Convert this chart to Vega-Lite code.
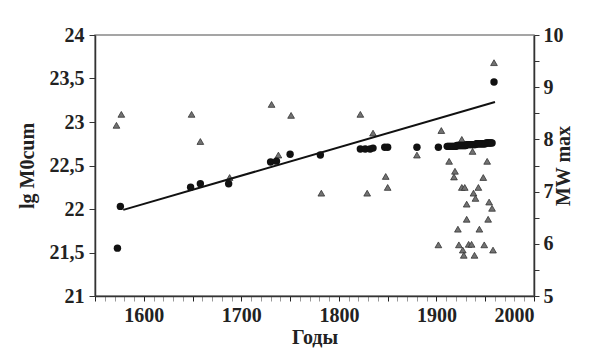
{
  "$schema": "https://vega.github.io/schema/vega-lite/v6.json",
  "autosize": "none",
  "width": 439,
  "height": 261,
  "padding": {"left": 95, "top": 35, "right": 61, "bottom": 57},
  "background": "white",
  "config": {
    "view": {"stroke": "#888", "strokeWidth": 1.5},
    "axis": {
      "labelFont": "Liberation Serif", "labelFontWeight": "bold", "labelFontSize": 20, "labelColor": "#222",
      "titleFont": "Liberation Serif", "titleFontWeight": "bold", "titleFontSize": 20, "titleColor": "#222",
      "domainColor": "#333", "domainWidth": 1.5, "tickColor": "#333", "tickWidth": 1, "grid": false
    }
  },
  "datasets": {
    "cum": [
      {"year": 1573, "lg": 21.55}, {"year": 1576, "lg": 22.03}, {"year": 1648, "lg": 22.25},
      {"year": 1658, "lg": 22.29}, {"year": 1687, "lg": 22.29}, {"year": 1730, "lg": 22.54},
      {"year": 1736, "lg": 22.55}, {"year": 1750, "lg": 22.63}, {"year": 1781, "lg": 22.62},
      {"year": 1822, "lg": 22.69}, {"year": 1827, "lg": 22.69}, {"year": 1832, "lg": 22.69},
      {"year": 1835, "lg": 22.70}, {"year": 1847, "lg": 22.71}, {"year": 1850, "lg": 22.71},
      {"year": 1880, "lg": 22.71}, {"year": 1902, "lg": 22.71},
      {"year": 1911, "lg": 22.72}, {"year": 1912, "lg": 22.72}, {"year": 1913, "lg": 22.72}, {"year": 1914, "lg": 22.72},
      {"year": 1915, "lg": 22.72}, {"year": 1916, "lg": 22.72}, {"year": 1917, "lg": 22.72}, {"year": 1918, "lg": 22.72},
      {"year": 1919, "lg": 22.72}, {"year": 1920, "lg": 22.72}, {"year": 1921, "lg": 22.73}, {"year": 1922, "lg": 22.73},
      {"year": 1923, "lg": 22.73}, {"year": 1924, "lg": 22.73}, {"year": 1925, "lg": 22.73}, {"year": 1926, "lg": 22.73},
      {"year": 1927, "lg": 22.73}, {"year": 1928, "lg": 22.73}, {"year": 1929, "lg": 22.73}, {"year": 1930, "lg": 22.73},
      {"year": 1931, "lg": 22.74}, {"year": 1932, "lg": 22.74}, {"year": 1933, "lg": 22.74}, {"year": 1934, "lg": 22.74},
      {"year": 1935, "lg": 22.74}, {"year": 1936, "lg": 22.74}, {"year": 1937, "lg": 22.74}, {"year": 1938, "lg": 22.74},
      {"year": 1939, "lg": 22.74}, {"year": 1940, "lg": 22.74}, {"year": 1941, "lg": 22.75}, {"year": 1942, "lg": 22.75},
      {"year": 1943, "lg": 22.75}, {"year": 1944, "lg": 22.75}, {"year": 1945, "lg": 22.75}, {"year": 1946, "lg": 22.75},
      {"year": 1947, "lg": 22.75}, {"year": 1948, "lg": 22.75}, {"year": 1949, "lg": 22.75}, {"year": 1950, "lg": 22.75},
      {"year": 1951, "lg": 22.76}, {"year": 1952, "lg": 22.76}, {"year": 1953, "lg": 22.76}, {"year": 1954, "lg": 22.76},
      {"year": 1955, "lg": 22.76}, {"year": 1956, "lg": 22.76}, {"year": 1957, "lg": 22.76},
      {"year": 1959, "lg": 23.46}
    ],
    "trend": [
      {"year": 1579, "lg": 21.99}, {"year": 1960, "lg": 23.23}
    ],
    "mmax": [
      {"year": 1572, "M": 8.27}, {"year": 1577, "M": 8.48}, {"year": 1649, "M": 8.48},
      {"year": 1658, "M": 7.96}, {"year": 1688, "M": 7.27}, {"year": 1731, "M": 8.67},
      {"year": 1738, "M": 7.70}, {"year": 1751, "M": 8.46}, {"year": 1782, "M": 6.97},
      {"year": 1822, "M": 8.48}, {"year": 1829, "M": 6.97}, {"year": 1835, "M": 8.12},
      {"year": 1848, "M": 7.29}, {"year": 1850, "M": 7.08}, {"year": 1880, "M": 7.70},
      {"year": 1905, "M": 8.17}, {"year": 1902, "M": 5.98}, {"year": 1913, "M": 7.58},
      {"year": 1919, "M": 7.39}, {"year": 1918, "M": 7.28}, {"year": 1922, "M": 6.28},
      {"year": 1923, "M": 5.98}, {"year": 1926, "M": 7.08}, {"year": 1929, "M": 7.08},
      {"year": 1927, "M": 5.88}, {"year": 1928, "M": 5.78}, {"year": 1931, "M": 6.76},
      {"year": 1931, "M": 6.47}, {"year": 1933, "M": 5.99}, {"year": 1936, "M": 5.99},
      {"year": 1937, "M": 7.77}, {"year": 1938, "M": 6.97}, {"year": 1940, "M": 6.87},
      {"year": 1939, "M": 5.78}, {"year": 1944, "M": 6.28}, {"year": 1943, "M": 7.08},
      {"year": 1948, "M": 7.27}, {"year": 1949, "M": 5.98}, {"year": 1952, "M": 7.58},
      {"year": 1953, "M": 6.47}, {"year": 1954, "M": 6.80}, {"year": 1957, "M": 6.68},
      {"year": 1958, "M": 5.88}, {"year": 1959, "M": 9.47}, {"year": 1926, "M": 8.0}
    ]
  },
  "encoding": {
    "x": {"field": "year", "type": "quantitative", "scale": {"domain": [1550, 2000], "nice": false, "zero": false},
      "axis": {"title": "Годы", "values": [1550,1560,1570,1580,1590,1600,1610,1620,1630,1640,1650,1660,1670,1680,1690,1700,1710,1720,1730,1740,1750,1760,1770,1780,1790,1800,1810,1820,1830,1840,1850,1860,1870,1880,1890,1900,1910,1920,1930,1940,1950,1960,1970,1980,1990,2000],
        "labelExpr": "datum.value % 100 == 0 ? '' + datum.value : ''",
        "tickSize": 5,
        "tickColor": {"condition": {"test": "datum.value % 50 == 0", "value": "#222"}, "value": "#999"},
        "labelAlign": {"condition": {"test": "datum.value == 2000", "value": "right"}, "value": "center"},
        "labelPadding": 4, "titlePadding": 2, "labelOverlap": false}}
  },
  "layer": [
    {
      "data": {"name": "mmax"},
      "mark": {"type": "point", "shape": "triangle-up", "filled": true, "fill": "#727272", "stroke": "#333", "strokeWidth": 0.8, "size": 45, "opacity": 1},
      "encoding": {
        "y": {"field": "M", "type": "quantitative", "scale": {"domain": [5, 10], "nice": false, "zero": false},
          "axis": {"orient": "right", "title": "MW max", "titleAngle": 270, "titlePadding": 10,
            "values": [5,5.5,6,6.5,7,7.5,8,8.5,9,9.5,10],
            "labelExpr": "datum.value % 1 == 0 ? format(datum.value, 'd') : ''",
            "tickSize": 5, "labelPadding": 4, "labelOverlap": false}}
      }
    },
    {
      "layer": [
        {
          "data": {"name": "trend"},
          "mark": {"type": "line", "color": "#111", "strokeWidth": 2},
          "encoding": {
            "y": {"field": "lg", "type": "quantitative", "scale": {"domain": [21, 24], "nice": false, "zero": false},
              "axis": {"orient": "left", "title": "lg M0cum", "titlePadding": 12,
                "values": [21,21.5,22,22.5,23,23.5,24],
                "format": "~g",
                "labelExpr": "replace(datum.label, '.', ',')",
                "tickSize": 6, "labelPadding": 5, "labelOverlap": false}}
          }
        },
        {
          "data": {"name": "cum"},
          "mark": {"type": "circle", "color": "#111", "size": 55, "opacity": 1},
          "encoding": {
            "y": {"field": "lg", "type": "quantitative"}
          }
        }
      ]
    }
  ],
  "resolve": {"scale": {"y": "independent"}}
}
